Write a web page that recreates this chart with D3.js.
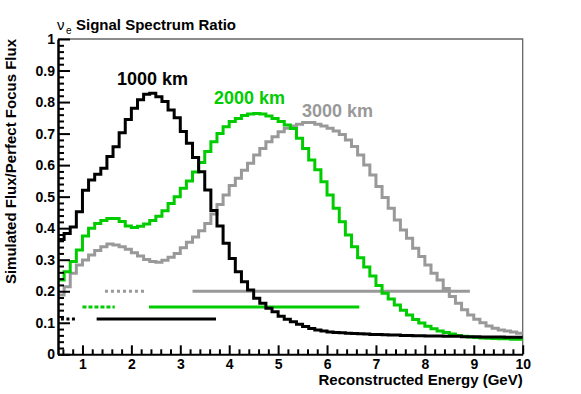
<!DOCTYPE html>
<html>
<head>
<meta charset="utf-8">
<script src="https://cdn.jsdelivr.net/npm/d3@7"></script>
<style>
  body { margin: 0; background: #fff; }
  text { font-family: "Liberation Sans", Arial, Helvetica, sans-serif; }
  .axis text { font-size: 14px; font-weight: bold; fill: #000; }
</style>
</head>
<body>
<div id="chart"></div>
<script>
// histogram binning (GeV)
var xMin = 0.5;
var binWidth = 0.125;

// simulated flux / perfect focus flux, one value per bin
var ratio1000 = [
  0.364, 0.383, 0.404, 0.452, 0.52, 0.553, 0.571, 0.59,
  0.627, 0.658, 0.703, 0.745, 0.78, 0.807, 0.825, 0.828,
  0.817, 0.802, 0.775, 0.75, 0.707, 0.669, 0.624, 0.579,
  0.521, 0.456, 0.407, 0.352, 0.304, 0.262, 0.23, 0.204,
  0.178, 0.162, 0.146, 0.135, 0.121, 0.111, 0.103, 0.095,
  0.088, 0.082, 0.077, 0.074, 0.071, 0.069, 0.068, 0.067,
  0.066, 0.065, 0.064, 0.063, 0.063, 0.062, 0.061, 0.061,
  0.060, 0.060, 0.059, 0.059, 0.058, 0.058, 0.058, 0.057,
  0.057, 0.057, 0.056, 0.056, 0.056, 0.055, 0.055, 0.055,
  0.055, 0.054, 0.054, 0.054
];

var ratio2000 = [
  0.236, 0.262, 0.294, 0.331, 0.375, 0.40, 0.415, 0.424,
  0.431, 0.431, 0.421, 0.407, 0.402, 0.406, 0.413, 0.424,
  0.438, 0.455, 0.478, 0.50, 0.527, 0.55, 0.578, 0.608,
  0.643, 0.674, 0.70, 0.722, 0.738, 0.748, 0.757, 0.762,
  0.764, 0.762, 0.756, 0.748, 0.738, 0.727, 0.716, 0.685,
  0.653, 0.616, 0.585, 0.547, 0.505, 0.463, 0.42, 0.378,
  0.341, 0.306, 0.277, 0.248, 0.218, 0.194, 0.175, 0.156,
  0.14, 0.125, 0.11, 0.099, 0.089, 0.081, 0.074, 0.069,
  0.064, 0.06, 0.057, 0.055, 0.053, 0.052, 0.051, 0.05,
  0.049, 0.049, 0.048, 0.048
];

var ratio3000 = [
  0.188, 0.214, 0.257, 0.283, 0.299, 0.315, 0.329, 0.341,
  0.35, 0.347, 0.341, 0.333, 0.322, 0.312, 0.301, 0.294,
  0.292, 0.298, 0.308, 0.32, 0.338, 0.355, 0.372, 0.392,
  0.415, 0.445, 0.475, 0.505, 0.535, 0.558, 0.584, 0.606,
  0.632, 0.653, 0.674, 0.69, 0.706, 0.717, 0.724, 0.73,
  0.735, 0.735, 0.73, 0.724, 0.717, 0.708, 0.697, 0.68,
  0.659, 0.632, 0.60, 0.569, 0.532, 0.497, 0.463, 0.426,
  0.394, 0.368, 0.336, 0.31, 0.283, 0.257, 0.236, 0.209,
  0.183, 0.162, 0.141, 0.125, 0.111, 0.10, 0.09, 0.083,
  0.077, 0.074, 0.071, 0.067
];

// energy ranges drawn as horizontal bars: level, dotted [from,to], solid [from,to]
var rangeLevels = [0.112, 0.15, 0.2];
var dottedRanges = [[0.56, 0.86], [1.0, 1.66], [1.46, 2.28]];
var solidRanges = [[1.29, 3.73], [2.36, 6.66], [3.25, 8.92]];

var seriesNames = ["1000 km", "2000 km", "3000 km"];
var seriesColors = ["#000000", "#00cc00", "#999999"];

var xTicks = [1, 2, 3, 4, 5, 6, 7, 8, 9, 10];
var yTicks = [0, 0.1, 0.2, 0.3, 0.4, 0.5, 0.6, 0.7, 0.8, 0.9, 1];

var svgWidth = 581;
var svgHeight = 394;
var plot = { left: 58, right: 522.7, top: 39, bottom: 354.3 };

var svg = d3.select("#chart")
  .append("svg")
  .attr("width", svgWidth)
  .attr("height", svgHeight);

svg.append("rect")
  .attr("width", svgWidth)
  .attr("height", svgHeight)
  .attr("fill", "#fff");

var x = d3.scaleLinear().domain([0.5, 10]).range([plot.left, plot.right]);
var y = d3.scaleLinear().domain([0, 1]).range([plot.bottom, plot.top]);

// frame (top and right)
svg.append("path")
  .attr("d", `M${plot.left},${plot.top}H${plot.right}V${plot.bottom}`)
  .attr("fill", "none")
  .attr("stroke", "#666")
  .attr("stroke-width", 1.3);

// range bars
var barGroup = svg.append("g");
var barWidths = [3, 3, 3];
var dashes = ["3,2.5", "4,2", "3,3"];
rangeLevels.forEach(function(level, i) {
  barGroup.append("line")
    .attr("x1", x(dottedRanges[i][0]))
    .attr("x2", x(dottedRanges[i][1]))
    .attr("y1", y(level))
    .attr("y2", y(level))
    .attr("stroke", seriesColors[i])
    .attr("stroke-width", barWidths[i])
    .attr("stroke-dasharray", dashes[i]);
  barGroup.append("line")
    .attr("x1", x(solidRanges[i][0]))
    .attr("x2", x(solidRanges[i][1]))
    .attr("y1", y(level))
    .attr("y2", y(level))
    .attr("stroke", seriesColors[i])
    .attr("stroke-width", barWidths[i]);
});

// histograms as step lines
function stepPoints(vals) {
  var pts = vals.map((v, i) => [xMin + i * binWidth, v]);
  pts.push([xMin + vals.length * binWidth, vals[vals.length - 1]]);
  return pts;
}

var stepLine = d3.line()
  .x(d => x(d[0]))
  .y(d => y(d[1]))
  .curve(d3.curveStepAfter);

var allSeries = [ratio1000, ratio2000, ratio3000];
[2, 1, 0].forEach(function(i) {
  svg.append("path")
    .attr("d", stepLine(stepPoints(allSeries[i])))
    .attr("fill", "none")
    .attr("stroke", seriesColors[i])
    .attr("stroke-width", 3)
    .attr("stroke-linejoin", "miter");
});

// minor ticks
var xMinor = d3.range(0.6, 10, 0.2).filter(v => Math.abs(v - Math.round(v)) > 0.01);
var yMinor = d3.range(0.02, 1, 0.02).filter(v => Math.abs(v * 10 - Math.round(v * 10)) > 0.01);

svg.append("g")
  .attr("transform", `translate(0, ${plot.bottom})`)
  .call(d3.axisBottom(x).tickValues(xMinor).tickSize(-5).tickFormat(""))
  .call(g => g.select(".domain").remove())
  .selectAll("line").attr("stroke-width", 2);

svg.append("g")
  .attr("transform", `translate(${plot.left}, 0)`)
  .call(d3.axisLeft(y).tickValues(yMinor).tickSize(-6).tickFormat(""))
  .call(g => g.select(".domain").remove())
  .selectAll("line").attr("stroke-width", 2);

// major axes
var xAxis = svg.append("g")
  .attr("class", "axis")
  .attr("transform", `translate(0, ${plot.bottom})`)
  .call(d3.axisBottom(x).tickValues(xTicks).tickSize(-9).tickSizeOuter(0).tickPadding(5).tickFormat(d3.format("d")));
xAxis.selectAll("line").attr("stroke-width", 2);
xAxis.select(".domain").attr("stroke-width", 2);

var yAxis = svg.append("g")
  .attr("class", "axis")
  .attr("transform", `translate(${plot.left}, 0)`)
  .call(d3.axisLeft(y).tickValues(yTicks).tickSize(-12).tickSizeOuter(0).tickPadding(3).tickFormat(d => d === 0 ? "0" : d === 1 ? "1" : d3.format(".1f")(d)));
yAxis.selectAll("line").attr("stroke-width", 2);
yAxis.select(".domain").attr("stroke-width", 2.5);

// axis titles
svg.append("text")
  .attr("x", plot.right)
  .attr("y", 385)
  .attr("text-anchor", "end")
  .attr("font-size", 15)
  .attr("font-weight", "bold")
  .text("Reconstructed Energy (GeV)");

svg.append("text")
  .attr("transform", `translate(16, ${plot.top}) rotate(-90)`)
  .attr("text-anchor", "end")
  .attr("font-size", 15)
  .attr("font-weight", "bold")
  .text("Simulated Flux/Perfect Focus Flux");

// title
svg.append("text")
  .attr("x", 57)
  .attr("y", 30)
  .attr("font-size", 15)
  .text("ν");
svg.append("text")
  .attr("x", 66)
  .attr("y", 34)
  .attr("font-size", 10)
  .text("e");
svg.append("text")
  .attr("x", 76)
  .attr("y", 30)
  .attr("font-size", 15)
  .attr("font-weight", "bold")
  .text("Signal Spectrum Ratio");

// curve labels
var labelPos = [[117, 85], [214, 104], [302, 117]];
seriesNames.forEach(function(name, i) {
  svg.append("text")
    .attr("x", labelPos[i][0])
    .attr("y", labelPos[i][1])
    .attr("font-size", 18)
    .attr("font-weight", "bold")
    .attr("fill", seriesColors[i])
    .text(name);
});
</script>
</body>
</html>
